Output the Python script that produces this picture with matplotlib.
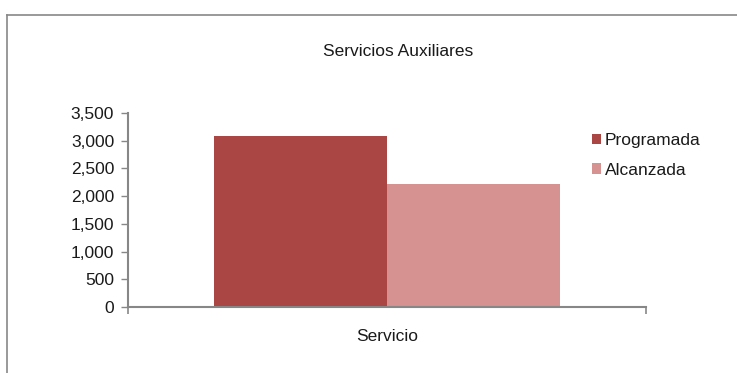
import matplotlib
matplotlib.use("Agg")
import matplotlib.pyplot as plt
from matplotlib.lines import Line2D
from matplotlib.ticker import FuncFormatter

plt.rcParams['font.family'] = ['Liberation Sans', 'DejaVu Sans']

# datos
categorias = ['Servicio']
series = ['Programada', 'Alcanzada']
valores = [[3080], [2220]]
colores = ['#AA4643', '#D59291']
titulo = 'Servicios Auxiliares'

fig = plt.figure(figsize=(7.37, 3.73), dpi=100)
ax = fig.add_axes([128 / 737, 66 / 373, 518 / 737, 194 / 373])

ancho = 1 / 3
for i, (nombre, vals) in enumerate(zip(series, valores)):
    pos = [k - ancho + ancho * i + ancho / 2 for k in range(len(categorias))]
    ax.bar(pos, vals, width=ancho, color=colores[i], label=nombre)

ax.set_xlim(-0.5, len(categorias) - 0.5)
ax.set_ylim(0, 3500)
ax.set_yticks(range(0, 3501, 500))
ax.yaxis.set_major_formatter(FuncFormatter(lambda v, p: f'{int(v):,}'))
ax.set_xticks([-0.5, 0.5])
ax.set_xticklabels(['', ''])
ax.set_xticks([0], minor=True)
ax.set_xticklabels(categorias, minor=True)
ax.tick_params(axis='x', which='minor', length=0, pad=16, labelsize=12.5, labelcolor='#1a1a1a')
ax.tick_params(axis='x', which='major', length=5, color='#878787', width=1.2)
ax.tick_params(axis='y', length=5, color='#878787', width=1, labelsize=12.5, pad=5,
               labelcolor='#1a1a1a')

for s in ['top', 'right']:
    ax.spines[s].set_visible(False)
for s in ['left', 'bottom']:
    ax.spines[s].set_color('#878787')
    ax.spines[s].set_linewidth(1.5)

fig.text(398 / 737, 1 - 52 / 373, titulo, ha='center', va='center', fontsize=12.5,
         color='#1a1a1a')

leg = fig.legend(loc='upper left', bbox_to_anchor=(585 / 737, 1 - 126 / 373),
                 frameon=False, fontsize=12.5, handlelength=0.55, handleheight=0.55,
                 handletextpad=0.2, labelspacing=0.85, borderaxespad=0)
for t in leg.get_texts():
    t.set_color('#1a1a1a')

# marco del grafico
fig.add_artist(Line2D([7 / 737, 7 / 737], [0, 1 - 15 / 373], transform=fig.transFigure,
                      color='#888888', linewidth=1.2))
fig.add_artist(Line2D([7 / 737, 1], [1 - 15 / 373, 1 - 15 / 373], transform=fig.transFigure,
                      color='#888888', linewidth=1.2))

fig.savefig('out.png', dpi=100)
